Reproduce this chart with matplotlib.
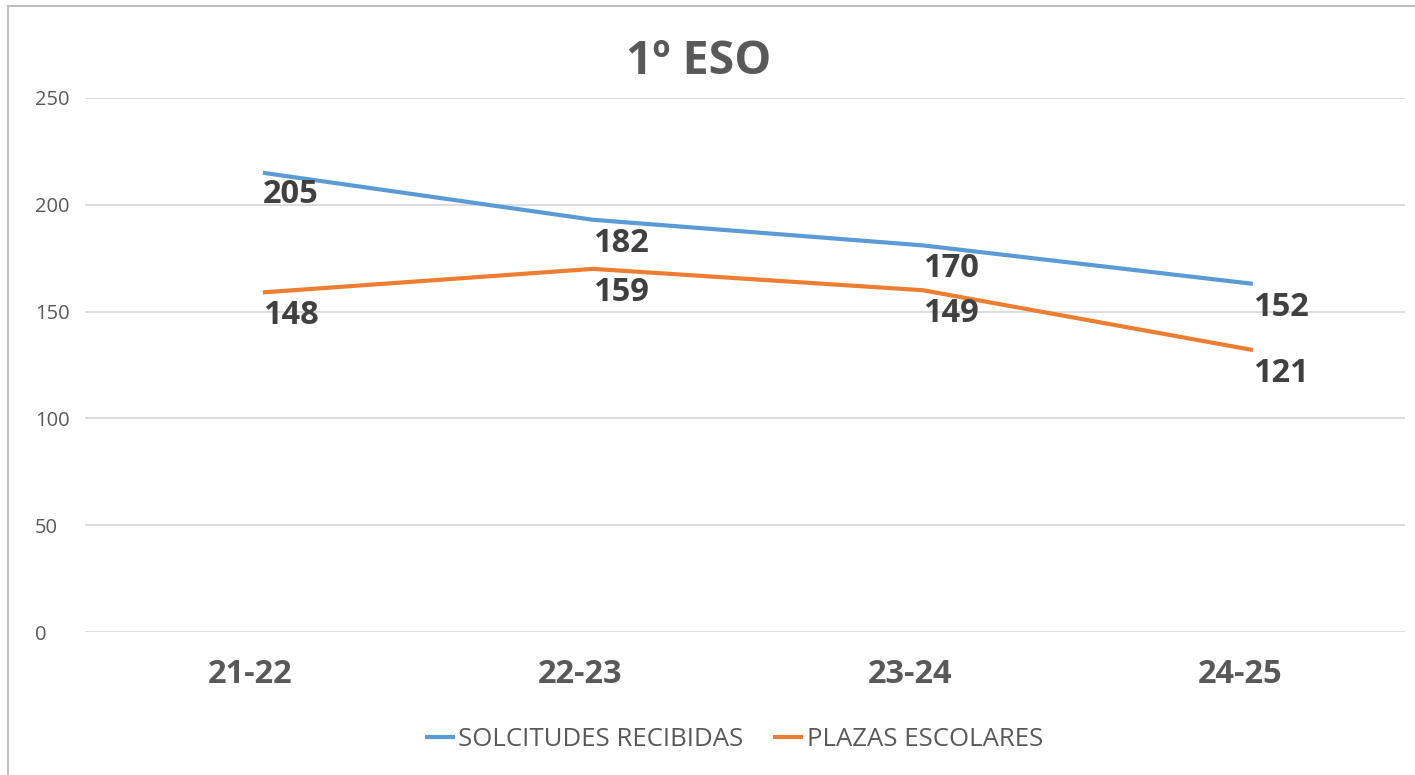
import matplotlib
matplotlib.use("Agg")
import matplotlib.pyplot as plt
from matplotlib.lines import Line2D
from matplotlib.transforms import ScaledTranslation

plt.rcParams['font.family'] = ['Open Sans', 'DejaVu Sans']

title = "1º ESO"
categories = ["21-22", "22-23", "23-24", "24-25"]
series_names = ["SOLCITUDES RECIBIDAS", "PLAZAS ESCOLARES"]
# line positions as drawn in the picture
solicitudes_line = [215, 193, 181, 163]
plazas_line = [159, 170, 160, 132]
# data label values as printed
solicitudes_labels = [205, 182, 170, 152]
plazas_labels = [148, 159, 149, 121]
yticks = [0, 50, 100, 150, 200, 250]

blue = "#5B9BD5"
orange = "#ED7D31"
text_gray = "#595959"
label_gray = "#404040"
grid_gray = "#D9D9D9"

W, H = 1415, 775
fig = plt.figure(figsize=(W / 100, H / 100), dpi=100)
ax = fig.add_axes([85 / W, 1 - 632 / H, (1405 - 85) / W, (632 - 98) / H])

x = list(range(len(categories)))
ax.plot(x, solicitudes_line, color=blue, lw=3, solid_capstyle='butt', label=series_names[0])
ax.plot(x, plazas_line, color=orange, lw=3, solid_capstyle='butt', label=series_names[1])

for xi, v in zip(x, solicitudes_labels):
    ax.annotate(str(v), (xi, v), xytext=(0, 0), textcoords='offset pixels',
                ha='left', va='center', fontsize=23.5, fontweight='bold', color=label_gray)
for xi, v in zip(x, plazas_labels):
    ax.annotate(str(v), (xi, v), xytext=(0, 0), textcoords='offset pixels',
                ha='left', va='center', fontsize=23.5, fontweight='bold', color=label_gray)

ax.set_xlim(-0.539, 3.461)
ax.set_ylim(0, 250)
ax.set_yticks(yticks)
ax.set_yticklabels([str(t) for t in yticks], fontsize=14.5, color=text_gray)
for lbl in ax.get_yticklabels():
    lbl.set_horizontalalignment('left')
ax.tick_params(axis='y', length=0, pad=36)
ax.set_xticks(x)
ax.set_xticklabels(categories, fontsize=23.5, fontweight='bold', color=text_gray)
ax.tick_params(axis='x', length=0, pad=19)
shift = ScaledTranslation(-13 / 100, 0, fig.dpi_scale_trans)
for lbl in ax.get_xticklabels():
    lbl.set_transform(lbl.get_transform() + shift)
ax.grid(axis='y', color=grid_gray, lw=1.3)
ax.set_axisbelow(True)
for s in ax.spines.values():
    s.set_visible(False)

fig.text(699 / W, 1 - 62 / H, title, ha='center', va='center', fontsize=33.5,
         fontweight='bold', color=text_gray)

leg = fig.legend(handles=ax.get_lines(), labels=series_names, loc='center',
                 bbox_to_anchor=(734 / W, 1 - 739 / H), ncol=2, frameon=False,
                 fontsize=18.5, handlelength=1.15, handletextpad=0.15, columnspacing=1.15,
                 labelcolor=text_gray)

# outer border (top and left)
fig.add_artist(Line2D([8 / W, 1], [1 - 6 / H, 1 - 6 / H], transform=fig.transFigure,
                      color="#BFBFBF", lw=1.5))
fig.add_artist(Line2D([8 / W, 8 / W], [0, 1 - 6 / H], transform=fig.transFigure,
                      color="#BFBFBF", lw=1.5))

fig.savefig("out.png", dpi=100)
